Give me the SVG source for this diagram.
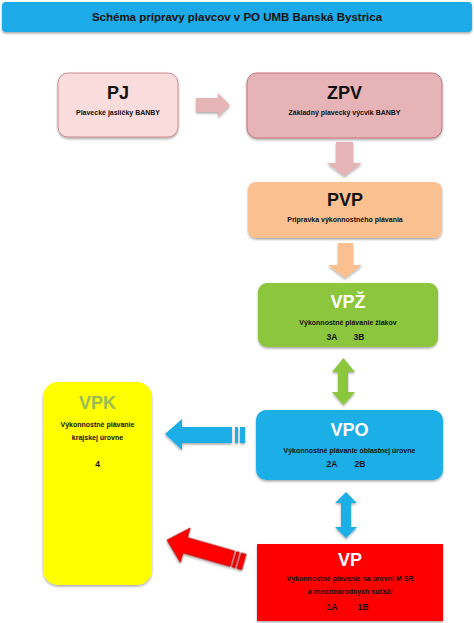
<svg xmlns="http://www.w3.org/2000/svg" width="474" height="623" viewBox="0 0 474 623">
<defs>
<filter id="sh" x="-10%" y="-10%" width="120%" height="130%">
<feDropShadow dx="0" dy="1.5" stdDeviation="1" flood-color="#000" flood-opacity="0.35"/>
</filter>
</defs>
<style>
text{font-family:"Liberation Sans",Arial,sans-serif;font-weight:bold;text-anchor:middle;fill:#111}
.big{font-size:18px}
.sm{font-size:7px}
.cd{font-size:8.5px}
.w{fill:#fff}
</style>
<rect width="474" height="623" fill="#fff"/>
<g id="title">
<rect x="2" y="2" width="470" height="30" rx="4" fill="#1aabe8" filter="url(#sh)"/>
<text x="237" y="21" font-size="11.5">Schéma prípravy plavcov v PO UMB Banská Bystrica</text>
</g>
<g id="connectors">
<polygon points="196,98 218,98 218,93 230,105 218,117 218,112 196,112" fill="#e6b3b6" filter="url(#sh)"/>
<polygon points="336,142 353,142 353,163 362,163 344.5,176 327,163 336,163" fill="#e6b3b6" filter="url(#sh)"/>
<polygon points="338,243 353,243 353,265 362,265 345,278 328,265 338,265" fill="#fac090" filter="url(#sh)"/>
<polygon points="343.5,358 355,372 348,372 348,392 355,392 343.5,405 332,392 338,392 338,372 332,372" fill="#8cc63e" filter="url(#sh)"/>
<polygon points="346,492 357,503 351,503 351,527 357,527 346,538 335,527 341,527 341,503 335,503" fill="#1aaee6" filter="url(#sh)"/>
<g fill="#1aaee6" filter="url(#sh)">
<polygon points="165,434 182,419 182,427 232,427 232,443 182,443 182,450"/>
<rect x="235" y="427" width="3" height="16"/>
<rect x="240" y="427" width="5" height="16"/>
</g>
<g fill="#ff0000" stroke="#b00000" stroke-width="0.8" transform="translate(167,540) rotate(16)" filter="url(#sh)">
<polygon points="0,0 19,-18 19,-8 68,-8 68,8 19,8 19,18"/>
<rect x="70" y="-8" width="3" height="16"/>
<rect x="75" y="-8" width="5" height="16"/>
</g>
</g>
<g id="PJ">
<rect x="58" y="73" width="120" height="64" rx="10" fill="#fadcdc" stroke="#d08a8c" stroke-width="1" filter="url(#sh)"/>
<text class="big" x="118" y="99">PJ</text>
<text class="sm" x="118" y="115">Plavecké jasličky BANBY</text>
</g>
<g id="ZPV">
<rect x="247" y="73" width="195" height="65" rx="10" fill="#e6b3b6" stroke="#c8707a" stroke-width="1" filter="url(#sh)"/>
<text class="big" x="344.5" y="99">ZPV</text>
<text class="sm" x="344.5" y="115">Základný plavecký výcvik BANBY</text>
</g>
<g id="PVP">
<rect x="248" y="182" width="194" height="56" rx="8" fill="#fac090" filter="url(#sh)"/>
<text class="big" x="345" y="206">PVP</text>
<text class="sm" x="345" y="222">Pripravka výkonnostného plávania</text>
</g>
<g id="VPZ">
<rect x="258" y="283" width="180" height="64" rx="9" fill="#8cc63e" filter="url(#sh)"/>
<text class="big w" x="348" y="308">VPŽ</text>
<text class="sm" x="348" y="325">Výkonnostné plávanie žiakov</text>
<text class="cd" x="332" y="340">3A</text>
<text class="cd" x="359" y="340">3B</text>
</g>
<g id="VPK">
<rect x="43" y="382" width="109" height="203" rx="15" fill="#ffff00" filter="url(#sh)"/>
<text class="big" x="97.5" y="409" style="fill:#9bbb59">VPK</text>
<text class="sm" x="97.5" y="427">Výkonnostné plávanie</text>
<text class="sm" x="97.5" y="440">krajskej úrovne</text>
<text class="cd" x="97.5" y="467">4</text>
</g>
<g id="VPO">
<rect x="256" y="410" width="187" height="70" rx="10" fill="#1aaee6" filter="url(#sh)"/>
<text class="big w" x="349.5" y="436">VPO</text>
<text class="sm" x="349.5" y="453">Výkonnostné plávanie oblastnej úrovne</text>
<text class="cd" x="332" y="467">2A</text>
<text class="cd" x="360" y="467">2B</text>
</g>
<g id="VP">
<rect x="257" y="544" width="186" height="77" fill="#ff0000" filter="url(#sh)"/>
<text class="big w" x="350" y="566">VP</text>
<text class="sm" x="350" y="581">Výkonnostné plávanie na úrovni M SR</text>
<text class="sm" x="350" y="594">a medzinárodných súťaží</text>
<text class="cd" x="332" y="610">1A</text>
<text class="cd" x="363" y="610">1B</text>
</g>
</svg>
